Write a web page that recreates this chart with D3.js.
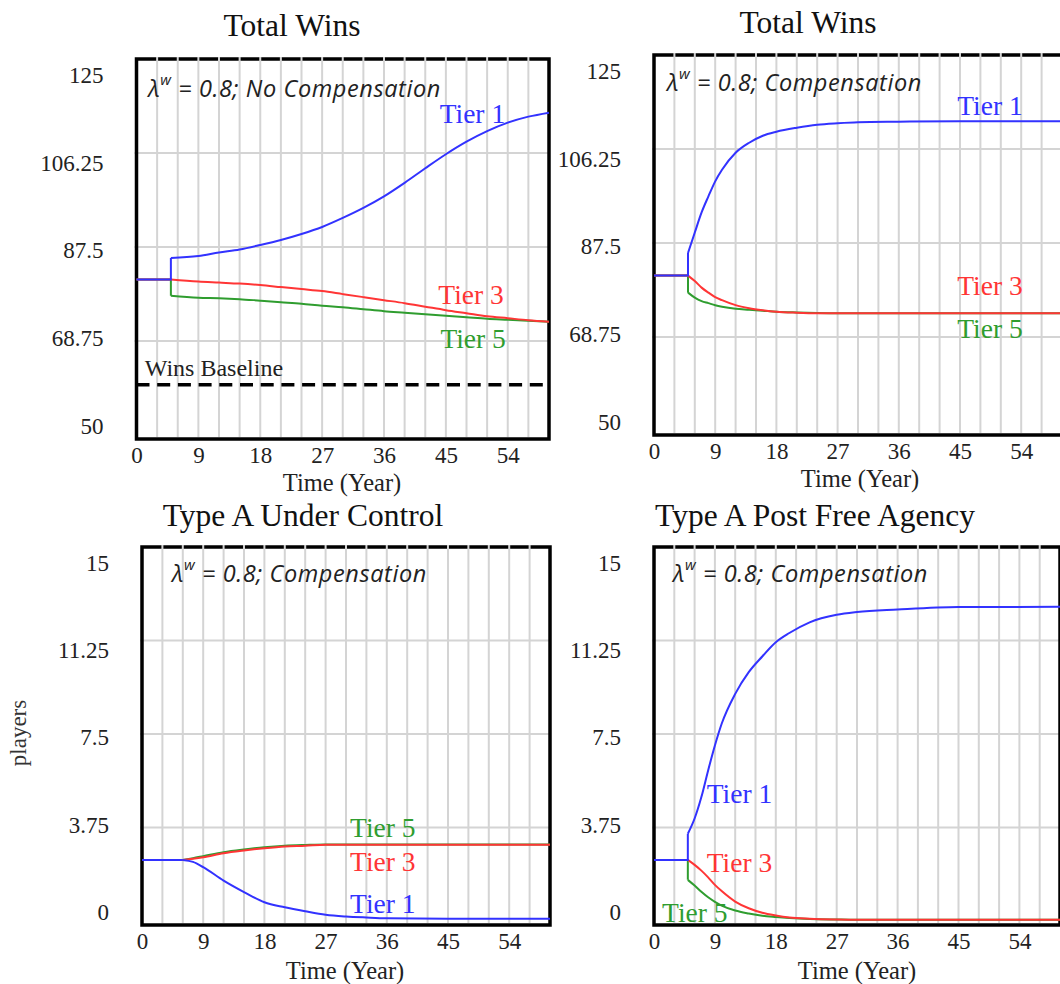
<!DOCTYPE html>
<html>
<head>
<meta charset="utf-8">
<script src="https://cdn.jsdelivr.net/npm/d3@7"></script>
<style>
  body { margin: 0; background: #fff; }
</style>
</head>
<body>
<script>
//Data
const tierNames = ["Tier 1", "Tier 3", "Tier 5"];
const xTicks = [0, 9, 18, 27, 36, 45, 54];
const winsTicks = [50, 68.75, 87.5, 106.25, 125];
const playerTicks = [0, 3.75, 7.5, 11.25, 15];

// Total Wins, no compensation (values after the change at year 5)
const winsStart = 81;
const winsBaseline = 60;
const nocompYears = [5, 9, 12, 15, 18, 21, 24, 27, 30, 33, 36, 39, 42, 45, 48, 51, 54, 57, 60];
const nocompTier1 = [85.3, 85.7, 86.4, 87.0, 87.9, 88.9, 90.1, 91.5, 93.3, 95.3, 97.6, 100.3, 103.2, 106.0, 108.5, 110.6, 112.3, 113.5, 114.3];
const nocompTier3 = [81.0, 80.6, 80.4, 80.2, 79.9, 79.5, 79.1, 78.7, 78.1, 77.5, 76.9, 76.3, 75.6, 74.9, 74.3, 73.7, 73.3, 72.9, 72.6];
const nocompTier5 = [77.8, 77.4, 77.3, 77.1, 76.8, 76.5, 76.2, 75.8, 75.5, 75.1, 74.7, 74.4, 74.1, 73.8, 73.5, 73.2, 73.0, 72.8, 72.6];

// Total Wins, compensation
const compYears = [5, 6, 7, 8, 9, 10, 12, 14, 16, 18, 21, 24, 27, 30, 36, 45, 60];
const compTier1 = [85.5, 89.6, 93.6, 96.8, 99.8, 102.1, 105.5, 107.5, 108.9, 109.7, 110.5, 111.1, 111.4, 111.6, 111.7, 111.8, 111.8];
const compTier3 = [81.0, 79.9, 78.6, 77.6, 76.7, 76.1, 75.1, 74.5, 74.1, 73.8, 73.6, 73.5, 73.5, 73.5, 73.5, 73.5, 73.5];
const compTier5 = [77.6, 76.6, 75.9, 75.5, 75.1, 74.8, 74.4, 74.2, 74.0, 73.8, 73.65, 73.55, 73.5, 73.5, 73.5, 73.5, 73.5];

// Type A under control
const playersStart = 2.45;
const ctrlYears = [6, 7.5, 9, 12, 15, 18, 21, 24, 27, 30, 33, 36, 45, 60];
const ctrlTier1 = [2.45, 2.37, 2.16, 1.62, 1.16, 0.75, 0.55, 0.39, 0.25, 0.18, 0.14, 0.11, 0.09, 0.09];
const ctrlTier3 = [2.45, 2.50, 2.56, 2.72, 2.83, 2.92, 2.99, 3.02, 3.06, 3.06, 3.06, 3.06, 3.06, 3.06];
const ctrlTier5 = [2.45, 2.52, 2.60, 2.76, 2.87, 2.96, 3.02, 3.05, 3.07, 3.07, 3.07, 3.07, 3.07, 3.07];

// Type A post free agency
const faYears = [5, 6, 7, 8, 9, 10, 12, 14, 16, 18, 20, 23, 27, 30, 36, 45, 60];
const faTier1 = [3.5, 4.11, 4.97, 6.04, 7.04, 7.91, 9.11, 9.98, 10.61, 11.18, 11.55, 11.98, 12.28, 12.39, 12.49, 12.59, 12.6];
const faTier3 = [2.45, 2.25, 2.02, 1.75, 1.45, 1.2, 0.78, 0.51, 0.33, 0.22, 0.14, 0.09, 0.06, 0.05, 0.05, 0.05, 0.05];
const faTier5 = [1.65, 1.42, 1.17, 0.95, 0.77, 0.62, 0.42, 0.3, 0.21, 0.16, 0.12, 0.08, 0.06, 0.05, 0.05, 0.05, 0.05];

//Layout and style
const width = 1060;
const height = 984;
const colors = ["#3232ff", "#ff3535", "#2f9d2f"];
const serif = "'Liberation Serif', 'Times New Roman', serif";

const panels = [
  { title: "Total Wins", titleAt: [292, 25], left: 136.5, right: 549, top: 59, bottom: 435, frameBottom: 439,
    yDomain: [50, 125], yTicks: winsTicks, start: winsStart, jumpAt: 5, years: nocompYears,
    series: [nocompTier1, nocompTier3, nocompTier5], note: "No Compensation", noteAt: [1.7, 119.2],
    labelAt: [[44.1, 114.2], [43.9, 78.1], [44.2, 69.3]], baseline: winsBaseline, xTitleAt: [342, 482] },
  { title: "Total Wins", titleAt: [808, 22], left: 654, right: 1062, top: 55, bottom: 431, frameBottom: 435,
    yDomain: [50, 125], yTicks: winsTicks, start: winsStart, jumpAt: 5, years: compYears,
    series: [compTier1, compTier3, compTier5], note: "Compensation", noteAt: [1.9, 119.6],
    labelAt: [[44.6, 115.0], [44.6, 79.1], [44.6, 70.5]], xTitleAt: [860, 478] },
  { title: "Type A Under Control", titleAt: [303, 515], left: 142, right: 550, top: 547, bottom: 921, frameBottom: 925,
    yDomain: [0, 15], yTicks: playerTicks, start: playersStart, jumpAt: 6, years: ctrlYears,
    series: [ctrlTier1, ctrlTier3, ctrlTier5], note: "Compensation", noteAt: [4.4, 13.96],
    labelAt: [[30.6, 0.72], [30.6, 2.37], [30.6, 3.77]], xTitleAt: [345, 970], yTitle: "players" },
  { title: "Type A Post Free Agency", titleAt: [815, 515], left: 654, right: 1060, top: 547, bottom: 921, frameBottom: 925,
    yDomain: [0, 15], yTicks: playerTicks, start: playersStart, jumpAt: 5, years: faYears,
    series: [faTier1, faTier3, faTier5], note: "Compensation", noteAt: [2.8, 13.96],
    labelAt: [[7.8, 5.13], [7.8, 2.33], [1.2, 0.36]], xTitleAt: [857, 970] }
];

//Svg creation
const svg = d3.select("body")
  .append("svg")
  .attr("width", width)
  .attr("height", height)
  .style("background", "#fff");

panels.forEach(drawPanel);

function drawPanel(p) {
  const g = svg.append("g");

  const x = d3.scaleLinear().domain([0, 60]).range([p.left, p.right]);
  const y = d3.scaleLinear().domain(p.yDomain).range([p.bottom, p.top]);
  // tick labels sit a little inside the frame at both ends, like the original
  const yLab = d3.scaleLinear().domain(p.yDomain).range([p.bottom - 9, p.top + 16]);

  // horizontal grid
  g.selectAll(".hgrid")
    .data(p.yTicks.slice(1, -1))
    .join("line")
    .attr("x1", p.left - 2).attr("x2", p.right)
    .attr("y1", d => y(d)).attr("y2", d => y(d))
    .attr("stroke", "#d4d4d4").attr("stroke-width", 2);

  // frame
  g.append("rect")
    .attr("x", p.left).attr("y", p.top)
    .attr("width", p.right - p.left).attr("height", p.frameBottom - p.top)
    .attr("fill", "none").attr("stroke", "#000").attr("stroke-width", 3.5);

  // vertical grid, every 3 years, breaking the top border
  g.selectAll(".vgrid")
    .data(d3.range(3, 60, 3))
    .join("line")
    .attr("x1", d => x(d)).attr("x2", d => x(d))
    .attr("y1", p.top - 2).attr("y2", p.frameBottom - 2)
    .attr("stroke", "#d4d4d4").attr("stroke-width", 2);

  // axes
  const xAxis = g.append("g")
    .attr("transform", `translate(0,${p.frameBottom})`)
    .call(d3.axisBottom(x).tickValues(xTicks).tickSize(0).tickPadding(8));
  xAxis.select(".domain").remove();
  xAxis.selectAll("text").attr("font-family", serif).attr("font-size", 23).attr("fill", "#222");

  const yAxis = g.append("g")
    .attr("transform", `translate(${p.left - 33},0)`)
    .call(d3.axisLeft(yLab).tickValues(p.yTicks).tickFormat(d => String(d)).tickSize(0).tickPadding(0));
  yAxis.select(".domain").remove();
  yAxis.selectAll("text").attr("font-family", serif).attr("font-size", 23).attr("fill", "#222");

  g.append("text")
    .attr("x", p.xTitleAt[0]).attr("y", p.xTitleAt[1])
    .attr("text-anchor", "middle").attr("dominant-baseline", "central")
    .attr("font-family", serif).attr("font-size", 24.5).attr("fill", "#222")
    .text("Time (Year)");

  if (p.yTitle) {
    g.append("text")
      .attr("transform", `translate(18,${(p.top + p.bottom) / 2 - 1}) rotate(-90)`)
      .attr("text-anchor", "middle").attr("dominant-baseline", "central")
      .attr("font-family", serif).attr("font-size", 23).attr("fill", "#333")
      .text(p.yTitle);
  }

  g.append("text")
    .attr("x", p.titleAt[0]).attr("y", p.titleAt[1])
    .attr("text-anchor", "middle").attr("dominant-baseline", "central")
    .attr("font-family", serif).attr("font-size", 31.5).attr("fill", "#111")
    .text(p.title);

  // baseline
  if (p.baseline !== undefined) {
    g.append("line")
      .attr("x1", x(0)).attr("x2", x(60))
      .attr("y1", y(p.baseline)).attr("y2", y(p.baseline))
      .attr("stroke", "#000").attr("stroke-width", 3.5)
      .attr("stroke-dasharray", "13,7.7");
    g.append("text")
      .attr("x", x(1.2)).attr("y", y(63.4))
      .attr("dominant-baseline", "central")
      .attr("font-family", serif).attr("font-size", 24).attr("fill", "#222")
      .text("Wins Baseline");
  }

  // series: flat start, step at jumpAt, then the smooth run
  const flat = d3.line().x(d => x(d[0])).y(d => y(d[1]));
  const smooth = d3.line().x(d => x(d[0])).y(d => y(d[1])).curve(d3.curveMonotoneX);

  [2, 1, 0].forEach(i => {
    const vals = p.series[i];
    const pts = p.years.map((t, k) => [t, vals[k]]);
    const head = [[0, p.start], [p.jumpAt, p.start], [p.jumpAt, vals[0]]];
    g.append("path").attr("d", flat(head))
      .attr("fill", "none").attr("stroke", colors[i]).attr("stroke-width", 2);
    g.append("path").attr("d", smooth(pts))
      .attr("fill", "none").attr("stroke", colors[i]).attr("stroke-width", 2);
  });

  // tier labels
  g.selectAll(".tier")
    .data(tierNames)
    .join("text")
    .attr("x", (d, i) => x(p.labelAt[i][0]))
    .attr("y", (d, i) => y(p.labelAt[i][1]))
    .attr("dominant-baseline", "central")
    .attr("font-family", serif).attr("font-size", 27.5)
    .attr("fill", (d, i) => colors[i])
    .text(d => d);

  // scenario note
  const note = g.append("text")
    .attr("x", x(p.noteAt[0])).attr("y", y(p.noteAt[1]))
    .attr("dominant-baseline", "central")
    .attr("font-family", "'Open Sans', sans-serif").attr("font-style", "italic")
    .attr("font-size", 23.5).attr("letter-spacing", 0.6).attr("fill", "#222");
  note.append("tspan").text("λ");
  note.append("tspan").attr("font-size", 15).attr("dy", -9).text("w");
  note.append("tspan").attr("dy", 9).text(" = 0.8; " + p.note);
}
</script>
</body>
</html>
